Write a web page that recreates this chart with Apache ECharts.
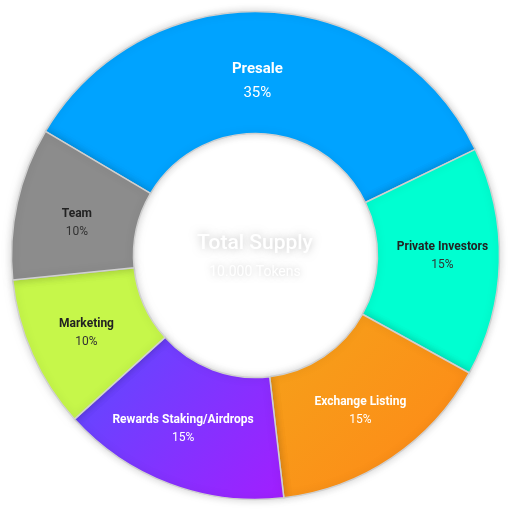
<!DOCTYPE html>
<html>
<head>
<meta charset="utf-8">
<style>
html,body{margin:0;padding:0;background:#fff;}
#chart{width:510px;height:511px;}
</style>
<script src="https://cdn.jsdelivr.net/npm/echarts@6/dist/echarts.min.js"></script>
</head>
<body>
<div id="chart"></div>
<script>
const categories = ['Presale', 'Private Investors', 'Exchange Listing', 'Rewards Staking/Airdrops', 'Marketing', 'Team'];
const sliceValues = [34, 15, 15, 15, 10, 10];
const percentLabels = ['35%', '15%', '15%', '15%', '10%', '10%'];
const centerTitle = 'Total Supply';
const centerSubtitle = '10.000 Tokens';

const fills = [
  '#00A3FF',
  '#00FFD1',
  new echarts.graphic.LinearGradient(0, 0, 1, 1, [{offset: 0, color: '#F5A21A'}, {offset: 1, color: '#FF8717'}]),
  new echarts.graphic.LinearGradient(0, 0, 1, 1, [{offset: 0, color: '#5A4DFF'}, {offset: 1, color: '#A21EFF'}]),
  '#C6F74A',
  '#8C8C8C'
];
const darkText = [false, true, false, false, true, true];
const labelShift = [[-6, 12], [1, -4], [1, 1], [-7, -1], [1, 2], [3, 7]];

const chart = echarts.init(document.getElementById('chart'));
const data = categories.map((name, i) => ({
  name: name,
  value: sliceValues[i],
  itemStyle: { color: fills[i] },
  label: {
    offset: labelShift[i],
    formatter: '{n|' + name + '}\n{p|' + percentLabels[i] + '}',
    rich: i === 0 ? {
      n: { fontSize: 15, fontWeight: 'bold', color: '#fff', fontFamily: 'Roboto', lineHeight: 24 },
      p: { fontSize: 15, color: '#fff', fontFamily: 'Roboto', lineHeight: 24 }
    } : {
      n: { fontSize: 12, fontWeight: 'bold', color: darkText[i] ? '#222' : '#fff', fontFamily: 'Roboto', lineHeight: 18 },
      p: { fontSize: 12, color: darkText[i] ? '#333' : '#fff', fontFamily: 'Roboto', lineHeight: 18 }
    }
  }
}));

chart.setOption({
  animation: false,
  title: {
    text: centerTitle,
    subtext: centerSubtitle,
    left: 'center',
    top: 228,
    itemGap: 11,
    textStyle: {
      color: '#ffffff', fontSize: 21, fontWeight: 500, fontFamily: 'Roboto',
      textShadowColor: 'rgba(0,0,0,0.25)', textShadowBlur: 8
    },
    subtextStyle: {
      color: '#ffffff', fontSize: 14, fontFamily: 'Roboto',
      textShadowColor: 'rgba(0,0,0,0.2)', textShadowBlur: 6
    }
  },
  series: [{
    type: 'pie',
    center: [255.5, 255.5],
    radius: [122, 244],
    startAngle: 149.4,
    clockwise: true,
    avoidLabelOverlap: false,
    itemStyle: {
      borderColor: '#d0d0d0',
      borderWidth: 1.5,
      shadowColor: 'rgba(0,0,0,0.18)',
      shadowBlur: 8
    },
    label: { show: true, position: 'inside' },
    labelLine: { show: false },
    emphasis: { disabled: true },
    data: data
  }]
});
</script>
</body>
</html>
